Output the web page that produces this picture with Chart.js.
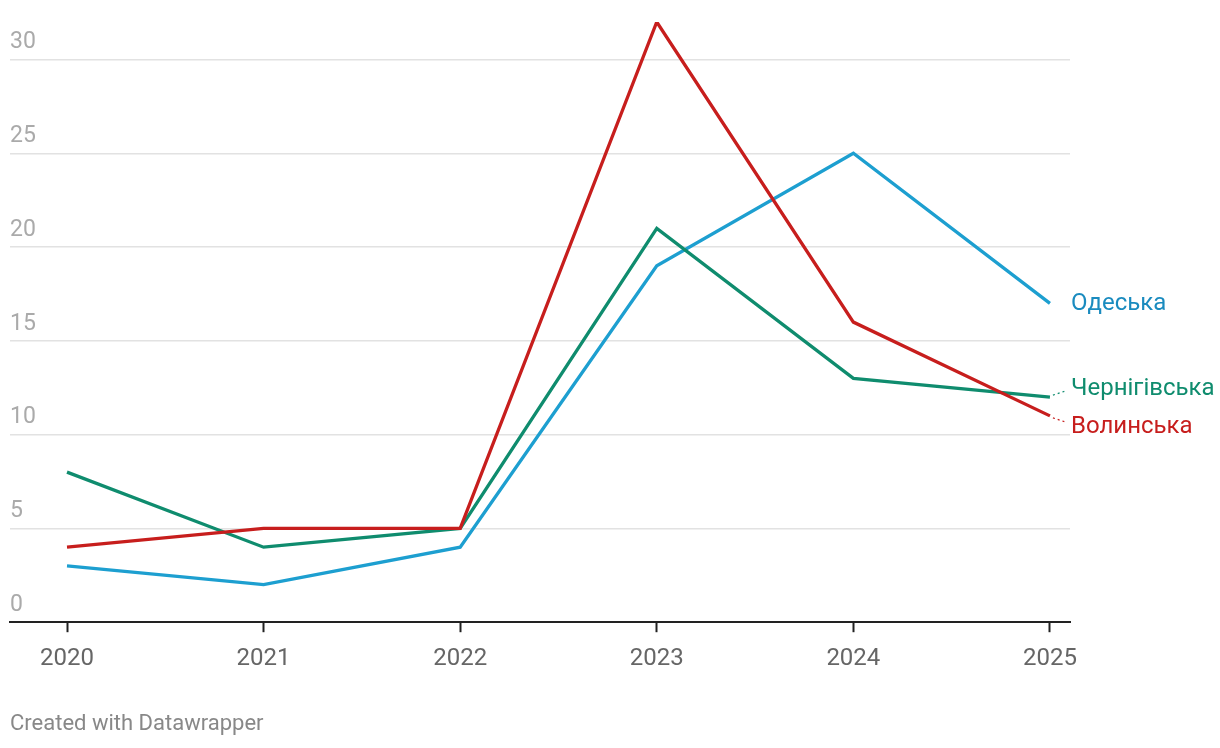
<!DOCTYPE html>
<html>
<head>
<meta charset="utf-8">
<script src="https://cdn.jsdelivr.net/npm/chart.js@4/dist/chart.umd.min.js"></script>
<style>
  html, body { margin: 0; padding: 0; background: #fff; }
  #wrap { position: relative; width: 1220px; height: 748px; }
</style>
</head>
<body>
<div id="wrap"><canvas id="c" width="1220" height="748"></canvas></div>
<script>
const years = [2020, 2021, 2022, 2023, 2024, 2025];
const seriesNames = ['Одеська', 'Чернігівська', 'Волинська'];
const odesa = [3, 2, 4, 19, 25, 17];
const chernihiv = [8, 4, 5, 21, 13, 12];
const volyn = [4, 5, 5, 32, 16, 11];
const yTicks = [0, 5, 10, 15, 20, 25, 30];
const footerText = 'Created with Datawrapper';

const colors = ['#1d9fd0', '#0f8c6e', '#c71e1d'];
const labelColors = ['#1a8bbf', '#0f8c6e', '#c71e1d'];
const seriesValues = [odesa, chernihiv, volyn];

const FONT = 'Roboto, "Noto Sans", sans-serif';

const datasets = seriesValues.map((vals, i) => ({
  label: seriesNames[i],
  data: years.map((y, j) => ({ x: y, y: vals[j] })),
  borderColor: colors[i],
  backgroundColor: colors[i],
  borderWidth: 3.3,
  pointRadius: 0,
  tension: 0,
  order: i === 2 ? 0 : (i === 1 ? 1 : 2)
}));

const endLabels = {
  id: 'endLabels',
  afterDatasetsDraw(chart) {
    const ctx = chart.ctx;
    const area = chart.chartArea;
    const items = seriesValues.map((vals, i) => {
      const meta = chart.getDatasetMeta(i);
      const pt = meta.data[meta.data.length - 1];
      return { i, px: pt.x, py: pt.y, ly: pt.y };
    });
    items.sort((a, b) => a.py - b.py);
    const gap = 38;
    for (let k = 1; k < items.length; k++) {
      const a = items[k - 1], b = items[k];
      if (b.ly - a.ly < gap) {
        const mid = (a.ly + b.ly) / 2;
        a.ly = mid - gap / 2;
        b.ly = mid + gap / 2;
      }
    }
    ctx.save();
    ctx.font = '24px ' + FONT;
    ctx.textBaseline = 'middle';
    ctx.textAlign = 'left';
    items.forEach(it => {
      const x0 = area.right;
      if (Math.abs(it.ly - it.py) > 2) {
        ctx.strokeStyle = colors[it.i];
        ctx.lineWidth = 1.3;
        ctx.setLineDash([2, 3]);
        ctx.beginPath();
        ctx.moveTo(it.px + 3, it.py + (it.ly < it.py ? -2 : 2));
        ctx.lineTo(x0 - 3, it.ly + (it.ly < it.py ? 3 : -3));
        ctx.stroke();
        ctx.setLineDash([]);
      }
      ctx.fillStyle = labelColors[it.i];
      ctx.fillText(seriesNames[it.i], x0 + 1, it.ly + 1);
    });
    ctx.restore();
  }
};

const footer = {
  id: 'footer',
  afterDraw(chart) {
    const ctx = chart.ctx;
    ctx.save();
    ctx.font = '22px ' + FONT;
    ctx.fillStyle = '#888';
    ctx.textBaseline = 'middle';
    ctx.textAlign = 'left';
    ctx.fillText(footerText, 10, 724);
    ctx.restore();
  }
};

new Chart(document.getElementById('c'), {
  type: 'line',
  data: { datasets },
  options: {
    responsive: false,
    animation: false,
    events: [],
    layout: { padding: { left: 10, right: 150, top: 22, bottom: 63 } },
    plugins: { legend: { display: false }, tooltip: { enabled: false } },
    scales: {
      x: {
        type: 'linear',
        min: 2019.71,
        max: 2025.102,
        afterBuildTicks(scale) { scale.ticks = years.map(v => ({ value: v })); },
        ticks: {
          color: '#666',
          font: { family: FONT, size: 24 },
          padding: 12,
          maxRotation: 0,
          autoSkip: false,
          callback: v => String(v)
        },
        grid: {
          drawOnChartArea: false,
          drawTicks: true,
          tickLength: 10,
          tickColor: '#222',
          tickWidth: 2
        },
        border: { display: true, color: '#222', width: 2 }
      },
      y: {
        min: 0,
        max: 32,
        afterBuildTicks(scale) { scale.ticks = yTicks.map(v => ({ value: v })); },
        ticks: {
          mirror: true,
          padding: 0,
          labelOffset: -17,
          color: '#aaa',
          font: { family: FONT, size: 23 },
          callback: v => String(v)
        },
        grid: {
          drawTicks: false,
          color: ctx => ctx.tick && ctx.tick.value === 0 ? 'rgba(0,0,0,0)' : '#e2e2e2',
          lineWidth: 1.5
        },
        border: { display: false }
      }
    }
  },
  plugins: [endLabels, footer]
});
</script>
</body>
</html>
